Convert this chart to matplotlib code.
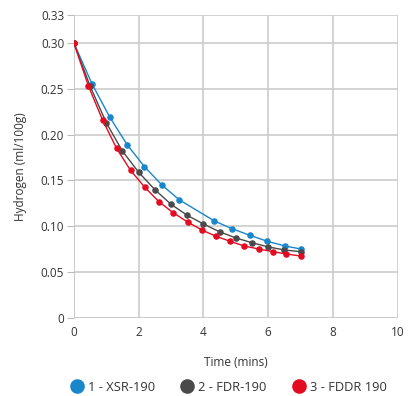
import matplotlib
matplotlib.use("Agg")
import matplotlib.pyplot as plt
from matplotlib.lines import Line2D

# series
xsr_t = [0, 0.565, 1.11, 1.645, 2.18, 2.72, 3.25, 4.33, 4.88, 5.43, 5.97, 6.52, 7.0]
xsr_h = [0.300, 0.255, 0.219, 0.189, 0.165, 0.145, 0.129, 0.106, 0.0974, 0.0902, 0.0837, 0.0785, 0.0753]

fdr_t = [0, 0.5, 1.0, 1.5, 2.0, 2.5, 3.0, 3.5, 4.0, 4.5, 5.0, 5.5, 6.0, 6.5, 7.0]
fdr_h = [0.300, 0.253, 0.213, 0.182, 0.159, 0.140, 0.124, 0.112, 0.1025, 0.094, 0.0873, 0.0821, 0.0775, 0.0742, 0.0723]

fddr_t = [0, 0.45, 0.886, 1.32, 1.75, 2.19, 2.62, 3.06, 3.51, 3.95, 4.39, 4.82, 5.26, 5.70, 6.15, 6.56, 7.0]
fddr_h = [0.300, 0.253, 0.216, 0.185, 0.161, 0.1426, 0.127, 0.115, 0.1047, 0.096, 0.0891, 0.0837, 0.0785, 0.0753, 0.0723, 0.0698, 0.0676]

labels = ["1 - XSR-190", "2 - FDR-190", "3 - FDDR 190"]
colors = ["#1a86cc", "#4a4a4a", "#e30b20"]

y_ticks = [0, 0.05, 0.10, 0.15, 0.20, 0.25, 0.30, 0.33]
y_ticklabels = ["0", "0.05", "0.10", "0.15", "0.20", "0.25", "0.30", "0.33"]
x_ticks = [0, 2, 4, 6, 8, 10]

plt.rcParams['font.family'] = ['Open Sans', 'DejaVu Sans']

fig = plt.figure(figsize=(4.08, 3.96), dpi=100)
ax = fig.add_axes([0.181, 0.197, 0.794, 0.764])

series = [(xsr_t, xsr_h), (fdr_t, fdr_h), (fddr_t, fddr_h)]
for (t, h), c in zip(series, colors):
    ax.plot(t, h, color=c, lw=1.0, marker='o', ms=3.7, mec=c, mfc=c, zorder=3)

ax.set_xlim(0, 10)
ax.set_ylim(0, 0.33)
ax.set_xticks(x_ticks)
ax.set_yticks(y_ticks)
ax.set_yticklabels(y_ticklabels)
ax.grid(True, color="#cccccc", lw=1.2, zorder=0)
for s in ax.spines.values():
    s.set_visible(False)
ax.axvline(0, color="#bbbbbb", lw=1.2, zorder=1)
ax.axhline(0, color="#bbbbbb", lw=1.2, zorder=1)
ax.tick_params(axis='y', length=5, color="#bbbbbb", labelsize=8.5, labelcolor="#333333", pad=2)
ax.tick_params(axis='x', length=0, labelsize=8.5, labelcolor="#333333", pad=6)

ax.set_xlabel("Time (mins)", fontsize=8.5, color="#333333", labelpad=12)
ax.set_ylabel("Hydrogen (ml/100g)", fontsize=8.5, color="#333333", labelpad=10)

handles = [Line2D([], [], ls='none', marker='o', ms=9.5, color=c) for c in colors]
fig.legend(handles, labels, loc='center', bbox_to_anchor=(0.56, 0.022), ncol=3, frameon=False,
           fontsize=9.3, handletextpad=0.35, columnspacing=2.0, handlelength=1.0,
           labelcolor="#333333", borderpad=0)

fig.savefig("out.png", dpi=100)
